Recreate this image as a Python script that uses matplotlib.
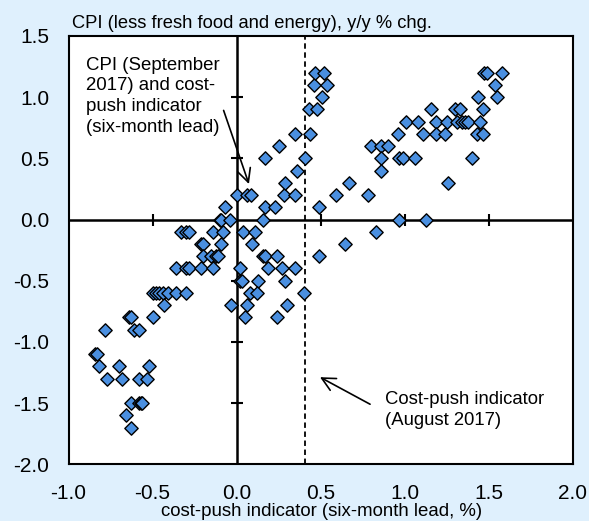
import matplotlib.pyplot as plt

plt.rcParams['font.family'] = ['Liberation Sans', 'DejaVu Sans']

# cost-push indicator (six-month lead, %) and core CPI (y/y % chg.)
cost_push = [
    0.00, -0.07, -0.10, -0.09, -0.04,
    -0.33, -0.30, -0.28, -0.14, -0.08,
    -0.21, -0.20, -0.09,
    -0.20, -0.15, -0.12, -0.11,
    -0.36, -0.30, -0.28, -0.21, -0.14,
    -0.50, -0.48, -0.46, -0.44, -0.41, -0.36, -0.30,
    -0.43, -0.03,
    -0.64, -0.63, -0.50,
    -0.78, -0.61, -0.58,
    -0.84, -0.83,
    -0.82, -0.70, -0.52,
    -0.77, -0.68, -0.58, -0.53,
    -0.63, -0.58, -0.57, -0.565,
    -0.66, -0.63,
    0.06, 0.086,
    0.04, 0.11, 0.09,
    0.16, 0.17, 0.24,
    0.02, 0.19, 0.27, 0.35,
    0.02, 0.03, 0.13, 0.29,
    0.08, 0.12, 0.40,
    0.06, 0.30, 0.05, 0.24,
    0.16, 0.17, 0.23, 0.49,
    0.28, 0.35, 0.59, 0.78,
    0.29, 0.67, 0.36, 0.17, 0.41, 0.25,
    0.35, 0.44, 0.43, 0.48, 0.51,
    0.46, 0.54, 0.47, 0.52,
    0.49, 0.645, 0.83, 0.97, 1.13,
    0.80, 0.86, 0.90, 0.86, 0.86, 0.96,
    0.97, 0.99, 1.06, 1.01, 1.08, 1.11, 1.16,
    1.19, 1.25, 1.19, 1.24, 1.26,
    1.30, 1.33, 1.31, 1.34, 1.36, 1.38,
    1.40, 1.44, 1.45, 1.47, 1.43, 1.47,
    1.475, 1.49, 1.58, 1.54, 1.55,
]
cpi = [
    0.2, 0.1, 0.0, 0.0, 0.0,
    -0.1, -0.1, -0.1, -0.1, -0.1,
    -0.2, -0.2, -0.2,
    -0.3, -0.3, -0.3, -0.3,
    -0.4, -0.4, -0.4, -0.4, -0.4,
    -0.6, -0.6, -0.6, -0.6, -0.6, -0.6, -0.6,
    -0.7, -0.7,
    -0.8, -0.8, -0.8,
    -0.9, -0.9, -0.9,
    -1.1, -1.1,
    -1.2, -1.2, -1.2,
    -1.3, -1.3, -1.3, -1.3,
    -1.5, -1.5, -1.5, -1.5,
    -1.6, -1.7,
    0.2, 0.2,
    -0.1, -0.1, -0.2,
    -0.3, -0.3, -0.3,
    -0.4, -0.4, -0.4, -0.4,
    -0.5, -0.5, -0.5, -0.5,
    -0.6, -0.6, -0.6,
    -0.7, -0.7, -0.8, -0.8,
    0.0, 0.1, 0.1, 0.1,
    0.2, 0.2, 0.2, 0.2,
    0.3, 0.3, 0.4, 0.5, 0.5, 0.6,
    0.7, 0.7, 0.9, 0.9, 1.0,
    1.1, 1.1, 1.2, 1.2,
    -0.3, -0.2, -0.1, 0.0, 0.0,
    0.6, 0.6, 0.6, 0.5, 0.4, 0.7,
    0.5, 0.5, 0.5, 0.8, 0.8, 0.7, 0.9,
    0.8, 0.8, 0.7, 0.7, 0.3,
    0.9, 0.9, 0.8, 0.8, 0.8, 0.8,
    0.5, 1.0, 0.8, 0.9, 0.7, 0.7,
    1.2, 1.2, 1.2, 1.1, 1.0,
]

aug_2017 = 0.41  # latest cost-push indicator reading

x_ticks = [-1.0, -0.5, 0.0, 0.5, 1.0, 1.5, 2.0]
y_ticks = [-2.0, -1.5, -1.0, -0.5, 0.0, 0.5, 1.0, 1.5]

fig = plt.figure(figsize=(5.89, 5.21), dpi=100)
fig.patch.set_facecolor('#dff0fd')
ax = fig.add_axes([0.1163, 0.1088, 0.8557, 0.8222])
ax.set_facecolor('white')

ax.set_xlim(-1.0, 2.0)
ax.set_ylim(-2.0, 1.5)
ax.set_xticks(x_ticks)
ax.set_yticks(y_ticks)
ax.set_xticklabels([f'{t:.1f}' for t in x_ticks])
ax.set_yticklabels([f'{t:.1f}' for t in y_ticks])
ax.tick_params(length=0, labelsize=15, pad=14)
for s in ax.spines.values():
    s.set_linewidth(1.5)

# zero lines with cross ticks
ax.axhline(0, color='black', lw=1.8, zorder=1)
ax.axvline(0, color='black', lw=1.8, zorder=1)
xt = [t for t in x_ticks[1:-1] if t != 0]
yt = [t for t in y_ticks[1:-1] if t != 0]
ax.plot(xt, [0] * len(xt), ls='none', marker='|', ms=9, mew=1.5, color='black', zorder=1)
ax.plot([0] * len(yt), yt, ls='none', marker='_', ms=9, mew=1.5, color='black', zorder=1)

ax.axvline(aug_2017, color='black', lw=1.3, ls=(0, (3, 2)), zorder=1)

ax.scatter(cost_push, cpi, marker='D', s=46, c='#4a8fe0', edgecolors='black',
           linewidths=1.0, zorder=3)

arrow = dict(arrowstyle='->, head_length=0.6, head_width=0.3', color='black',
             lw=1.2, shrinkA=0, shrinkB=0, mutation_scale=16)
ax.annotate('CPI (September\n2017) and cost-\npush indicator\n(six-month lead)',
            xy=(0.074, 0.29), xytext=(-0.896, 1.33), fontsize=13.4,
            ha='left', va='top', linespacing=1.28,
            arrowprops=dict(arrow, relpos=(1.03, 0.32)))
ax.annotate('', xy=(0.497, -1.288), xytext=(0.795, -1.509), arrowprops=arrow)
ax.text(0.884, -1.40, 'Cost-push indicator\n(August 2017)', fontsize=13.3,
        ha='left', va='top', linespacing=1.28)

fig.text(72 / 589, 1 - 23 / 521, 'CPI (less fresh food and energy), y/y % chg.',
         fontsize=13.2, ha='left', va='center')
fig.text(322 / 589, 1 - 512 / 521, 'cost-push indicator (six-month lead, %)',
         fontsize=13.4, ha='center', va='center')

fig.savefig('out.png', dpi=100, facecolor=fig.get_facecolor())
